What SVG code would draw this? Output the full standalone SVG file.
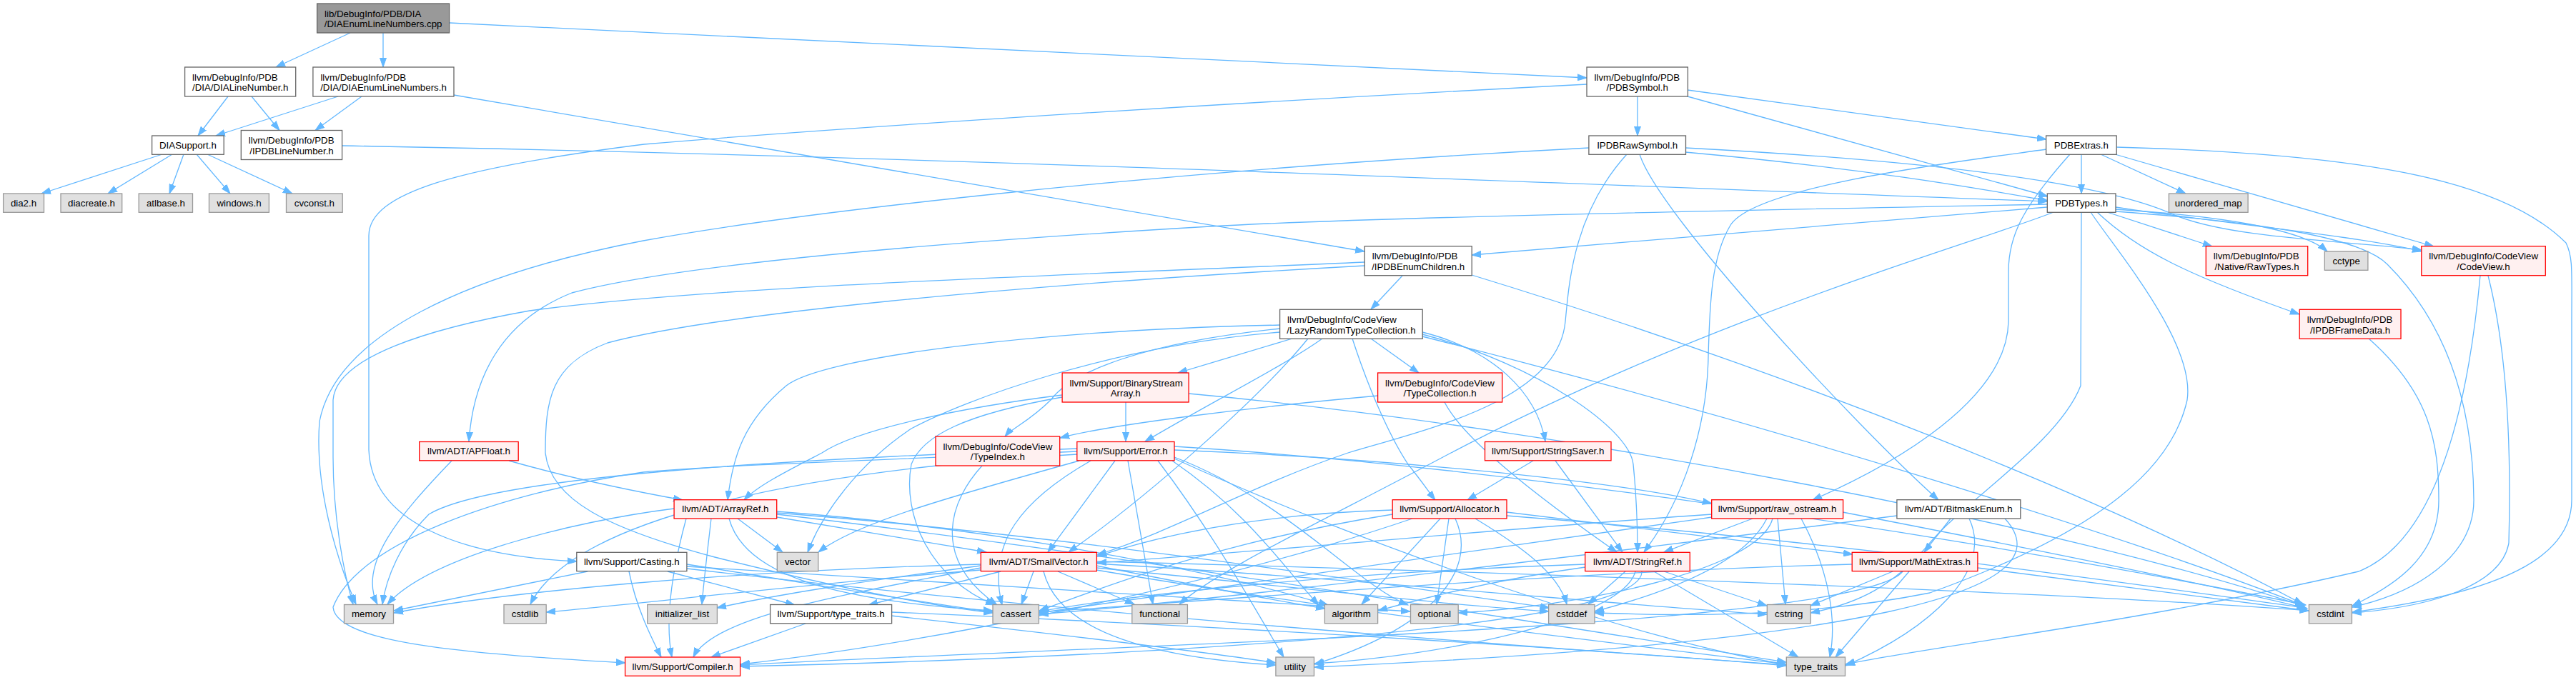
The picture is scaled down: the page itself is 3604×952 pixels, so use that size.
<svg xmlns="http://www.w3.org/2000/svg" width="3604" height="952" viewBox="0 0 3604 952">
<style>
text{font-family:"Liberation Sans",Arial,sans-serif;font-size:13.3px;fill:#000}
.m{text-anchor:middle}
.s{text-anchor:start}
rect{stroke-width:1.3}
.w{fill:#fff;stroke:#666}
.r{fill:#fff0f0;stroke:#f00}
.g{fill:#e0e0e0;stroke:#999}
.k{fill:#999;stroke:#666}
#edges path{fill:none;stroke:#63b8ff;stroke-width:1.3;marker-end:url(#a)}
</style>
<defs>
<marker id="a" markerWidth="14" markerHeight="10" refX="13" refY="5" orient="auto" markerUnits="userSpaceOnUse"><path d="M0,0.5 L13,5 L0,9.5 z" fill="#63b8ff" stroke="#63b8ff" stroke-width="1"/></marker>
</defs>
<rect width="3604" height="952" fill="#fff"/>
<g id="edges">
<path d="M490,46 L386,94"/>
<path d="M536,46 L536,94"/>
<path d="M629,32 L2220,109"/>
<path d="M319,135 L277,190"/>
<path d="M352,135 L391,182.5"/>
<path d="M473,135 L302,190"/>
<path d="M506,135 L441,182.5"/>
<path d="M635,133 L1909,352"/>
<path d="M227,216 L58,271"/>
<path d="M241,216 L151,271"/>
<path d="M257,216 L237,271"/>
<path d="M275,216 L322,271"/>
<path d="M290,216 L409,271"/>
<path d="M479,204 C1300,218 2300,262 2864,282"/>
<path d="M2291,135 L2291,190"/>
<path d="M2361,126 L2863,195"/>
<path d="M2361,135 L2865,275"/>
<path d="M2220,118 C1600,150 1100,185 901,202 C640,235 516,270 516,330 L516,630 C520,730 640,778 807,786"/>
<path d="M2358,213 C2600,235 2760,262 2865,281"/>
<path d="M2358,207 C2700,225 2940,255 3040,300 C3120,335 3300,338 3388,350"/>
<path d="M2294,216 C2320,300 2600,600 2712,700"/>
<path d="M2276,216 C2200,300 2195,400 2190,450 C2180,560 2000,600 1886,634 C1750,680 1650,740 1535,777"/>
<path d="M2223,207 C1600,240 1100,300 900,337 C650,385 470,470 447,590 C440,680 470,780 498,846"/>
<path d="M2863,209 C2750,225 2450,260 2420,317 C2395,360 2392,420 2390,500 C2388,600 2355,700 2300,773"/>
<path d="M2959,216 C3150,270 3300,315 3405,345"/>
<path d="M2912,216 L2912,271"/>
<path d="M2896,216 C2830,290 2810,330 2810,380 L2810,450 C2808,560 2650,650 2536,700"/>
<path d="M2961,206 C3300,215 3500,250 3590,340 C3600,360 3598,380 3598,450 L3598,700 C3598,780 3500,830 3291,857"/>
<path d="M2939,216 L3058,271"/>
<path d="M2864,286 C2400,295 1900,305 1693,317 C1300,340 950,370 800,410 C700,450 662,530 656,618"/>
<path d="M2960,290 C3100,312 3300,330 3388,352"/>
<path d="M2864,290 C2700,302 2400,330 2059,357"/>
<path d="M2934,297 C2990,350 3060,385 3217,440"/>
<path d="M2948,297 L3095,345"/>
<path d="M2960,293 C3100,302 3220,320 3256,352"/>
<path d="M2873,297 C2780,335 2400,440 2030,634 C1850,730 1700,800 1650,846"/>
<path d="M2912,297 L2911,540 C2880,620 2750,700 2700,760 C2650,820 2600,845 2533,858"/>
<path d="M2925,297 C2960,350 3072,480 3060,560 C3040,650 2950,740 2700,830 C2500,870 2300,860 2231,858"/>
<path d="M2960,296 C3150,310 3300,330 3340,370 C3420,450 3460,560 3461,700 C3461,780 3380,830 3291,850"/>
<path d="M1962,386 L1918,433"/>
<path d="M1909,367 C1500,385 1000,400 741,435 C600,460 470,500 466,560 L466,640 C466,720 480,800 494,846"/>
<path d="M1909,372 C1400,400 1000,440 850,480 C770,510 763,560 763,634 C770,700 850,740 1000,780 C1200,830 1320,850 1389,858"/>
<path d="M2059,385 C2500,520 2950,700 3222,846"/>
<path d="M1918,474 L1985,522"/>
<path d="M1808,474 L1648,522"/>
<path d="M1850,474 C1800,510 1700,560 1602,618"/>
<path d="M1892,474 C1920,560 1950,620 1970,650 C1990,675 2000,690 2008,700"/>
<path d="M1990,465 C2090,490 2150,550 2162,618"/>
<path d="M1990,468 C2150,510 2280,600 2285,650 C2290,700 2291,740 2291,773"/>
<path d="M1990,471 C2500,600 3000,760 3224,848"/>
<path d="M1791,455 C1450,462 1150,500 1100,540 C1040,590 1025,640 1018,700"/>
<path d="M1791,460 C1600,480 1500,520 1470,560 C1440,590 1415,600 1406,611"/>
<path d="M1791,465 C1550,485 1350,560 1275,600 C1200,650 1150,720 1130,773"/>
<path d="M1830,474 C1760,560 1600,700 1495,773"/>
<path d="M1928,554 C1750,570 1550,595 1483,613"/>
<path d="M2021,563 C2040,600 2100,660 2262,773"/>
<path d="M1575,563 L1575,618"/>
<path d="M1486,553 C1350,570 1200,600 1150,634 C1100,660 1060,680 1041,700"/>
<path d="M1486,556 C1350,580 1290,610 1275,650 C1262,720 1300,810 1392,847"/>
<path d="M1663,551 C2200,600 2900,740 3224,849"/>
<path d="M1374,652 C1330,700 1300,780 1395,847"/>
<path d="M1560,645 L1466,773"/>
<path d="M1578,645 L1613,846"/>
<path d="M1526,645 C1430,700 1380,760 1402,847"/>
<path d="M1510,645 C1350,690 1200,730 1145,773"/>
<path d="M1507,628 C1200,640 700,660 600,720 C560,760 540,810 535,846"/>
<path d="M1507,632 C1200,645 1000,652 900,661 C700,690 500,760 466,850 C470,900 650,915 875,928"/>
<path d="M1507,636 C1100,660 800,730 742,846"/>
<path d="M1643,640 C1800,700 1900,820 1970,847"/>
<path d="M1640,645 C1750,720 1800,800 1845,847"/>
<path d="M1643,642 C1900,760 2300,900 2499,930"/>
<path d="M1620,645 C1700,750 1760,860 1796,920"/>
<path d="M1643,630 C1900,640 2250,670 2395,705"/>
<path d="M1643,625 C2200,660 2900,780 3226,847"/>
<path d="M2145,645 L2053,700"/>
<path d="M2176,645 L2270,773"/>
<path d="M632,645 C560,720 500,790 528,846"/>
<path d="M712,645 C800,670 900,690 955,700"/>
<path d="M1032,726 L1095,773"/>
<path d="M1087,724 L1380,773"/>
<path d="M1020,726 C1040,800 1150,840 1389,855"/>
<path d="M960,726 C940,800 930,870 940,920"/>
<path d="M943,712 C800,730 600,780 542,846"/>
<path d="M1087,716 C1400,740 1700,800 1858,847"/>
<path d="M1087,718 C1500,750 1950,820 2168,851"/>
<path d="M995,726 C990,770 985,810 982,846"/>
<path d="M1087,720 C1600,780 2200,880 2499,927"/>
<path d="M1948,714 C1800,718 1650,740 1535,779"/>
<path d="M1976,726 C1700,820 1300,900 1036,930"/>
<path d="M2108,717 L2592,776"/>
<path d="M2015,726 L1905,846"/>
<path d="M2027,726 L2010,846"/>
<path d="M2036,726 C2070,800 2000,880 1839,930"/>
<path d="M2064,726 C2120,760 2180,800 2192,846"/>
<path d="M2108,722 C2600,760 3000,820 3226,851"/>
<path d="M1948,720 C1700,760 1550,820 1454,855"/>
<path d="M2452,726 L2328,773"/>
<path d="M2487,726 L2498,846"/>
<path d="M2472,726 C2440,790 2330,830 2231,856"/>
<path d="M2480,726 C2460,800 2200,850 2040,858"/>
<path d="M2395,720 C2100,740 1800,770 1535,788"/>
<path d="M2395,724 C2000,780 1600,840 1454,858"/>
<path d="M2578,717 C2800,760 3100,820 3228,852"/>
<path d="M2520,726 C2560,800 2570,870 2560,920"/>
<path d="M2729,726 L2692,773"/>
<path d="M2755,726 C2790,800 2700,880 2582,932"/>
<path d="M2805,726 C2900,830 2600,900 1839,934"/>
<path d="M2654,722 C2200,780 1700,840 1454,860"/>
<path d="M822,800 L551,855"/>
<path d="M934,800 L1112,847"/>
<path d="M880,800 C890,850 910,890 925,920"/>
<path d="M961,790 C1150,820 1300,845 1389,857"/>
<path d="M961,793 C1400,820 1800,845 1973,856"/>
<path d="M961,796 C1500,860 2200,910 2499,931"/>
<path d="M1446,800 L1429,846"/>
<path d="M1480,800 L1587,846"/>
<path d="M1400,800 L1215,847"/>
<path d="M1372,792 C1200,815 1100,830 1003,851"/>
<path d="M1372,795 C1200,830 1000,860 970,920"/>
<path d="M1372,790 C1000,800 700,830 551,858"/>
<path d="M1372,798 C1100,820 900,845 764,857"/>
<path d="M1534,792 C1650,815 1780,840 1854,852"/>
<path d="M1534,795 C1800,820 2000,845 2167,856"/>
<path d="M1534,789 C1900,810 2300,850 2472,860"/>
<path d="M1534,786 C2100,800 2900,830 3230,855"/>
<path d="M1534,798 C1900,860 2300,905 2499,930"/>
<path d="M1460,800 C1480,880 1600,920 1785,931"/>
<path d="M2274,800 L2222,846"/>
<path d="M2328,800 L2472,848"/>
<path d="M2314,800 L2516,920"/>
<path d="M2288,800 C2270,870 2000,920 1839,929"/>
<path d="M2297,800 C2300,880 1600,920 1036,933"/>
<path d="M2218,794 C2100,810 2000,835 1928,855"/>
<path d="M2218,790 C1900,800 1600,830 1454,856"/>
<path d="M2648,800 L2533,848"/>
<path d="M2671,800 L2568,920"/>
<path d="M2662,800 C2600,880 1500,905 1036,931"/>
<path d="M2591,790 C2200,800 1700,840 1454,857"/>
<path d="M2767,795 L3230,855"/>
<path d="M1127,873 L995,920"/>
<path d="M1247,857 C1800,880 2300,915 2499,932"/>
<path d="M1247,862 C1500,890 1700,915 1785,928"/>
<path d="M3481,386 C3510,500 3513,650 3510,760 C3500,820 3400,850 3291,858"/>
<path d="M3470,386 C3450,600 3400,760 3300,800 C3000,870 2700,905 2582,930"/>
<path d="M3314,474 C3400,550 3412,620 3412,700 C3412,780 3350,820 3291,848"/>
</g>
<g id="n0"><rect class="k" x="443.6" y="5" width="185" height="41"/><text class="s" x="454" y="23.5">lib/DebugInfo/PDB/DIA</text><text class="m" x="536.1" y="38.2">/DIAEnumLineNumbers.cpp</text></g>
<g id="n1"><rect class="w" x="258.6" y="94" width="155.1" height="41"/><text class="s" x="269" y="112.5">llvm/DebugInfo/PDB</text><text class="m" x="336.2" y="127.2">/DIA/DIALineNumber.h</text></g>
<g id="n2"><rect class="w" x="437.9" y="94" width="197.1" height="41"/><text class="s" x="448.4" y="112.5">llvm/DebugInfo/PDB</text><text class="m" x="536.5" y="127.2">/DIA/DIAEnumLineNumbers.h</text></g>
<g id="n3"><rect class="w" x="2220" y="94" width="141.4" height="41"/><text class="s" x="2230.5" y="112.5">llvm/DebugInfo/PDB</text><text class="m" x="2290.7" y="127.2">/PDBSymbol.h</text></g>
<g id="n4"><rect class="w" x="212.6" y="190" width="100.6" height="26.3"/><text class="m" x="262.9" y="207.6">DIASupport.h</text></g>
<g id="n5"><rect class="w" x="337.3" y="182.5" width="141.3" height="41"/><text class="s" x="347.8" y="201">llvm/DebugInfo/PDB</text><text class="m" x="408" y="215.7">/IPDBLineNumber.h</text></g>
<g id="n6"><rect class="w" x="2222.9" y="190" width="135.6" height="26.3"/><text class="m" x="2290.7" y="207.6">IPDBRawSymbol.h</text></g>
<g id="n7"><rect class="w" x="2862.6" y="190" width="98.6" height="26.3"/><text class="m" x="2911.9" y="207.6">PDBExtras.h</text></g>
<g id="n8"><rect class="g" x="4.6" y="271" width="56.9" height="26.3"/><text class="m" x="33" y="288.6">dia2.h</text></g>
<g id="n9"><rect class="g" x="85" y="271" width="85.7" height="26.3"/><text class="m" x="127.9" y="288.6">diacreate.h</text></g>
<g id="n10"><rect class="g" x="194.2" y="271" width="75.3" height="26.3"/><text class="m" x="231.9" y="288.6">atlbase.h</text></g>
<g id="n11"><rect class="g" x="292.5" y="271" width="83.9" height="26.3"/><text class="m" x="334.5" y="288.6">windows.h</text></g>
<g id="n12"><rect class="g" x="400.5" y="271" width="78.7" height="26.3"/><text class="m" x="439.9" y="288.6">cvconst.h</text></g>
<g id="n13"><rect class="w" x="2864.3" y="271" width="95.7" height="26.3"/><text class="m" x="2912.2" y="288.6">PDBTypes.h</text></g>
<g id="n14"><rect class="g" x="3034.4" y="271" width="110.7" height="26.3"/><text class="m" x="3089.8" y="288.6">unordered_map</text></g>
<g id="n15"><rect class="w" x="1909.2" y="344.7" width="150" height="41"/><text class="s" x="1919.7" y="363.2">llvm/DebugInfo/PDB</text><text class="m" x="1984.2" y="377.9">/IPDBEnumChildren.h</text></g>
<g id="n16"><rect class="r" x="3086.3" y="344.7" width="142.4" height="41"/><text class="s" x="3096.8" y="363.2">llvm/DebugInfo/PDB</text><text class="m" x="3157.5" y="377.9">/Native/RawTypes.h</text></g>
<g id="n17"><rect class="g" x="3252.3" y="352" width="60.6" height="26.3"/><text class="m" x="3282.6" y="369.6">cctype</text></g>
<g id="n18"><rect class="r" x="3387.8" y="344.7" width="173.5" height="41"/><text class="s" x="3398.3" y="363.2">llvm/DebugInfo/CodeView</text><text class="m" x="3474.5" y="377.9">/CodeView.h</text></g>
<g id="n19"><rect class="w" x="1790.6" y="433.3" width="199.6" height="41"/><text class="s" x="1801.1" y="451.8">llvm/DebugInfo/CodeView</text><text class="m" x="1890.4" y="466.5">/LazyRandomTypeCollection.h</text></g>
<g id="n20"><rect class="r" x="3217.2" y="433.3" width="141.8" height="41"/><text class="s" x="3227.7" y="451.8">llvm/DebugInfo/PDB</text><text class="m" x="3288.1" y="466.5">/IPDBFrameData.h</text></g>
<g id="n21"><rect class="r" x="1927.6" y="522" width="174.1" height="41"/><text class="s" x="1938.1" y="540.5">llvm/DebugInfo/CodeView</text><text class="m" x="2014.6" y="555.2">/TypeCollection.h</text></g>
<g id="n22"><rect class="r" x="1486.1" y="522" width="177" height="41"/><text class="s" x="1496.6" y="540.5">llvm/Support/BinaryStream</text><text class="m" x="1574.6" y="555.2">Array.h</text></g>
<g id="n23"><rect class="r" x="1309" y="611" width="173.7" height="41"/><text class="s" x="1319.5" y="629.5">llvm/DebugInfo/CodeView</text><text class="m" x="1395.8" y="644.2">/TypeIndex.h</text></g>
<g id="n24"><rect class="r" x="1506.8" y="618.5" width="136.2" height="26.3"/><text class="m" x="1574.9" y="636.1">llvm/Support/Error.h</text></g>
<g id="n25"><rect class="r" x="2077.5" y="618.5" width="176.5" height="26.3"/><text class="m" x="2165.7" y="636.1">llvm/Support/StringSaver.h</text></g>
<g id="n26"><rect class="r" x="586.7" y="618.5" width="138.5" height="26.3"/><text class="m" x="656" y="636.1">llvm/ADT/APFloat.h</text></g>
<g id="n27"><rect class="r" x="943.1" y="699.7" width="143.6" height="26.3"/><text class="m" x="1014.9" y="717.3">llvm/ADT/ArrayRef.h</text></g>
<g id="n28"><rect class="r" x="1948.2" y="699.7" width="159.8" height="26.3"/><text class="m" x="2028.1" y="717.3">llvm/Support/Allocator.h</text></g>
<g id="n29"><rect class="r" x="2394.7" y="699.7" width="183.9" height="26.3"/><text class="m" x="2486.6" y="717.3">llvm/Support/raw_ostream.h</text></g>
<g id="n30"><rect class="w" x="2653.9" y="699.7" width="172.9" height="26.3"/><text class="m" x="2740.3" y="717.3">llvm/ADT/BitmaskEnum.h</text></g>
<g id="n31"><rect class="w" x="806.8" y="773.3" width="154.1" height="26.3"/><text class="m" x="883.8" y="790.9">llvm/Support/Casting.h</text></g>
<g id="n32"><rect class="g" x="1087.3" y="773.3" width="57.5" height="26.3"/><text class="m" x="1116" y="790.9">vector</text></g>
<g id="n33"><rect class="r" x="1372.3" y="773.3" width="162.1" height="26.3"/><text class="m" x="1453.3" y="790.9">llvm/ADT/SmallVector.h</text></g>
<g id="n34"><rect class="r" x="2217.7" y="773.3" width="146.6" height="26.3"/><text class="m" x="2291" y="790.9">llvm/ADT/StringRef.h</text></g>
<g id="n35"><rect class="r" x="2591.2" y="773.3" width="175.7" height="26.3"/><text class="m" x="2679" y="790.9">llvm/Support/MathExtras.h</text></g>
<g id="n36"><rect class="g" x="481.5" y="846.5" width="69" height="26.3"/><text class="m" x="516" y="864.1">memory</text></g>
<g id="n37"><rect class="g" x="705" y="846.5" width="59.2" height="26.3"/><text class="m" x="734.6" y="864.1">cstdlib</text></g>
<g id="n38"><rect class="g" x="905.7" y="846.5" width="97.7" height="26.3"/><text class="m" x="954.5" y="864.1">initializer_list</text></g>
<g id="n39"><rect class="w" x="1077.6" y="846.5" width="170" height="26.3"/><text class="m" x="1162.6" y="864.1">llvm/Support/type_traits.h</text></g>
<g id="n40"><rect class="g" x="1389" y="846.5" width="64.4" height="26.3"/><text class="m" x="1421.2" y="864.1">cassert</text></g>
<g id="n41"><rect class="g" x="1583.8" y="846.5" width="77.6" height="26.3"/><text class="m" x="1622.6" y="864.1">functional</text></g>
<g id="n42"><rect class="g" x="1853.4" y="846.5" width="74.2" height="26.3"/><text class="m" x="1890.5" y="864.1">algorithm</text></g>
<g id="n43"><rect class="g" x="1973.5" y="846.5" width="66.7" height="26.3"/><text class="m" x="2006.8" y="864.1">optional</text></g>
<g id="n44"><rect class="g" x="2166.6" y="846.5" width="64.4" height="26.3"/><text class="m" x="2198.8" y="864.1">cstddef</text></g>
<g id="n45"><rect class="g" x="2472.3" y="846.5" width="60.9" height="26.3"/><text class="m" x="2502.7" y="864.1">cstring</text></g>
<g id="n46"><rect class="g" x="3230.4" y="846.5" width="60" height="26.3"/><text class="m" x="3260.4" y="864.1">cstdint</text></g>
<g id="n47"><rect class="r" x="874.6" y="920" width="161" height="26.3"/><text class="m" x="955.1" y="937.6">llvm/Support/Compiler.h</text></g>
<g id="n48"><rect class="g" x="1784.9" y="920" width="53.6" height="26.3"/><text class="m" x="1811.7" y="937.6">utility</text></g>
<g id="n49"><rect class="g" x="2499.3" y="920" width="82.2" height="26.3"/><text class="m" x="2540.4" y="937.6">type_traits</text></g>
</svg>
